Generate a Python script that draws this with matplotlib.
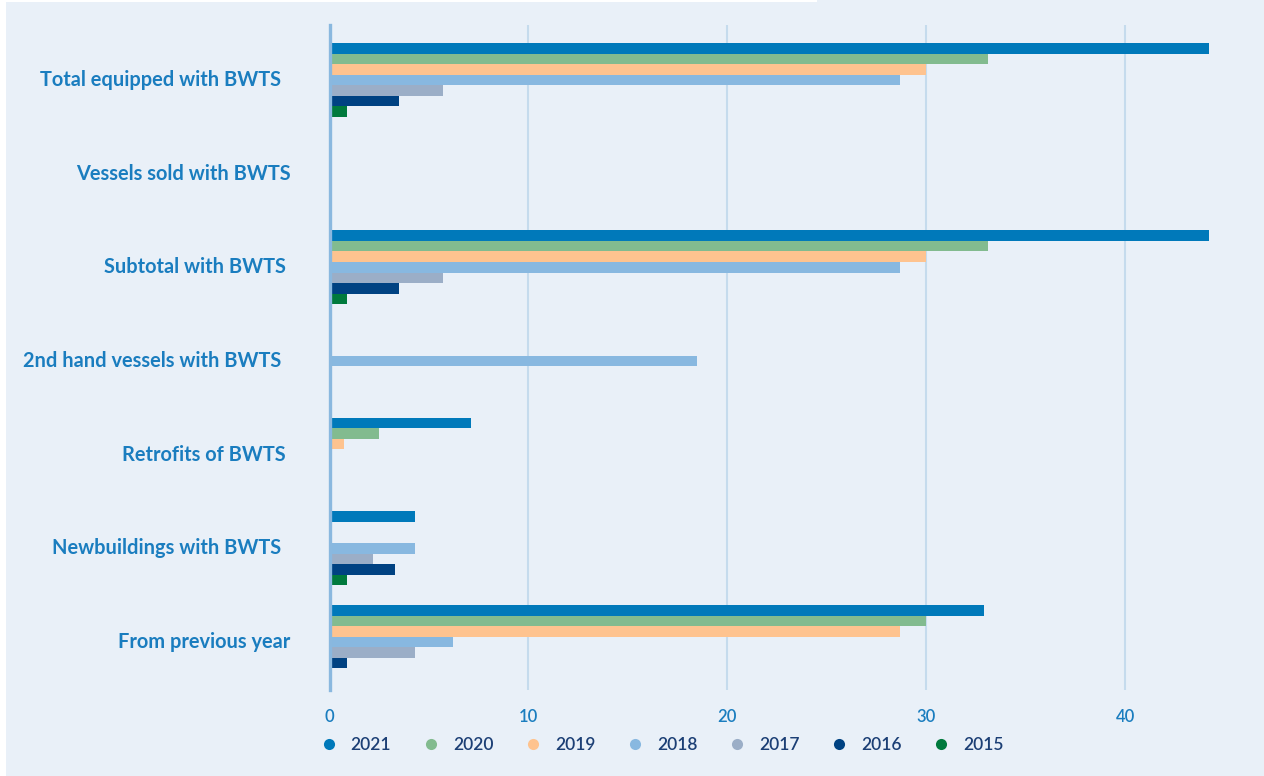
import matplotlib
matplotlib.use("Agg")
import matplotlib.pyplot as plt
import matplotlib.transforms as mtransforms
from matplotlib.lines import Line2D
from matplotlib.patches import Rectangle
import numpy as np

# Categories listed bottom to top
categories = [
    "From previous year",
    "Newbuildings with BWTS  ",
    "Retrofits of BWTS ",
    "2nd hand vessels with BWTS  ",
    "Subtotal with BWTS ",
    "Vessels sold with BWTS",
    "Total equipped with BWTS  ",
]

years = ["2021", "2020", "2019", "2018", "2017", "2016", "2015"]

# Values per year, in the same order as categories
v2021 = [32.9, 4.3, 7.1, 0.0, 44.2, 0.0, 44.2]
v2020 = [30.0, 0.0, 2.5, 0.0, 33.1, 0.0, 33.1]
v2019 = [28.7, 0.0, 0.75, 0.0, 30.0, 0.0, 30.0]
v2018 = [6.2, 4.3, 0.0, 18.5, 28.7, 0.0, 28.7]
v2017 = [4.3, 2.2, 0.0, 0.0, 5.7, 0.0, 5.7]
v2016 = [0.9, 3.3, 0.0, 0.0, 3.5, 0.0, 3.5]
v2015 = [0.0, 0.9, 0.0, 0.0, 0.9, 0.0, 0.9]

series = [v2021, v2020, v2019, v2018, v2017, v2016, v2015]
colors = ["#0079ba", "#82bb8f", "#fec38f", "#88b8e0", "#9baec7", "#004282", "#007a3d"]

bg = "#e9f0f8"
label_blue = "#1a7dbf"
legend_navy = "#1c3f75"

fig = plt.figure(figsize=(12.64, 7.76), dpi=100, facecolor=bg)
# thin white margin strips along the top and left edges
fig.patches.append(Rectangle((0, 0), 6 / 1264, 1, transform=fig.transFigure,
                             facecolor="white", edgecolor="none", zorder=-1))
fig.patches.append(Rectangle((0, 1 - 2 / 776), 817 / 1264, 2 / 776, transform=fig.transFigure,
                             facecolor="white", edgecolor="none", zorder=-1))

left = 329.5 / 1264
bottom = (776 - 690) / 776
top = 1 - 25 / 776
xmax = 47.0
width = (xmax * 19.89) / 1264
ax = fig.add_axes([left, bottom, width, top - bottom])
ax.set_facecolor(bg)

n = len(series)
bar_h = 0.1129
y = np.arange(len(categories))
for k, (vals, col) in enumerate(zip(series, colors)):
    offset = (n - 1) / 2 * bar_h - k * bar_h
    ax.barh(y + offset, vals, height=bar_h, color=col, edgecolor="none", zorder=2)

ax.set_xlim(0, xmax)
ax.set_ylim(-0.512, 6.587)

ax.set_xticks([0, 10, 20, 30, 40])
ax.grid(axis="x", color="#c5dbed", linewidth=1.5, zorder=0)
ax.set_axisbelow(True)

for s in ["top", "right", "bottom"]:
    ax.spines[s].set_visible(False)
ax.spines["left"].set_color("#8ab8df")
ax.spines["left"].set_linewidth(2.4)
ax.spines["left"].set_zorder(3)

ax.set_yticks(y)
ax.set_yticklabels(categories)
ax.tick_params(axis="y", length=0, pad=28)
ax.tick_params(axis="x", length=0, pad=14)

lift = mtransforms.ScaledTranslation(0, 2 / 100, fig.dpi_scale_trans)
for lbl in ax.get_yticklabels():
    lbl.set_fontfamily("Lato")
    lbl.set_fontweight("bold")
    lbl.set_fontsize(14.4)
    lbl.set_color(label_blue)
    lbl.set_transform(lbl.get_transform() + lift)
for lbl in ax.get_xticklabels():
    lbl.set_fontfamily("Lato")
    lbl.set_fontweight("semibold")
    lbl.set_fontsize(12)
    lbl.set_color(label_blue)

handles = [Line2D([], [], marker="o", linestyle="none", markersize=8,
                  markerfacecolor=c, markeredgecolor="none") for c in colors]
fig.legend(handles, years, loc="center left",
           bbox_to_anchor=(322 / 1264, 1 - 745 / 776),
           ncol=7, frameon=False, borderpad=0, borderaxespad=0,
           handlelength=0.8, handletextpad=0.85, columnspacing=1.9,
           prop={"family": "Lato", "size": 12.5, "weight": "semibold"},
           labelcolor=legend_navy)

fig.savefig("out.png", dpi=100, facecolor=bg)
